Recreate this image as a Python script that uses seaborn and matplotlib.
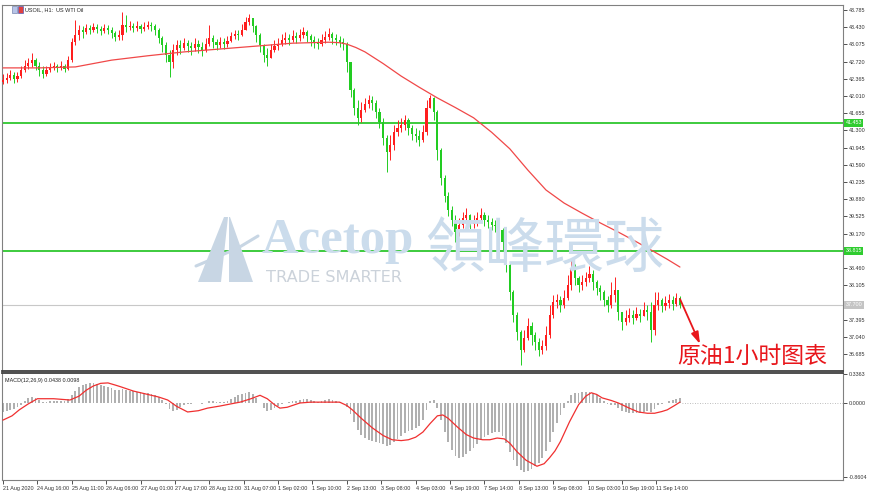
import numpy as np
import pandas as pd
import matplotlib
matplotlib.use("Agg")
import matplotlib.pyplot as plt
from matplotlib.patches import Polygon, Rectangle
import seaborn as sns

sns.set_style("white")
plt.rcParams["font.family"] = ["Liberation Sans", "DejaVu Sans"]

hours_per_bar = 2
first_open = 42.30
closes = [42.34, 42.38, 42.44, 42.36, 42.42, 42.55, 42.63, 42.69, 42.75, 42.63,
          42.55, 42.46, 42.55, 42.61, 42.63, 42.59, 42.63, 42.57, 42.75, 43.12,
          43.27, 43.37, 43.33, 43.41, 43.37, 43.43, 43.39, 43.35, 43.41, 43.37,
          43.31, 43.23, 43.27, 43.48, 43.43, 43.45, 43.41, 43.45, 43.39, 43.43,
          43.48, 43.45, 43.37, 43.21, 43.06, 42.86, 42.71, 42.96, 43.06, 43.00,
          43.10, 43.04, 43.00, 43.08, 43.02, 42.96, 43.08, 43.21, 43.12, 43.06,
          43.12, 43.08, 43.15, 43.25, 43.29, 43.27, 43.37, 43.54, 43.62, 43.45,
          43.27, 43.06, 42.86, 42.79, 42.96, 43.04, 43.08, 43.17, 43.21, 43.17,
          43.25, 43.21, 43.27, 43.33, 43.25, 43.17, 43.12, 43.08, 43.17, 43.23,
          43.29, 43.21, 43.17, 43.12, 43.08, 42.71, 42.13, 41.76, 41.56, 41.72,
          41.84, 41.93, 41.87, 41.68, 41.47, 41.14, 40.85, 41.00, 41.27, 41.35,
          41.41, 41.51, 41.35, 41.23, 41.18, 41.10, 41.27, 41.76, 41.97, 41.68,
          40.90, 40.32, 39.95, 39.66, 39.45, 39.20, 39.35, 39.49, 39.55, 39.37,
          39.41, 39.49, 39.55, 39.45, 39.41, 39.35, 39.33, 39.24, 39.00, 38.52,
          37.96, 37.49, 37.14, 36.77, 37.01, 37.26, 37.08, 36.93, 36.77, 36.85,
          37.08, 37.49, 37.76, 37.80, 37.70, 37.84, 38.11, 38.46, 38.25, 38.11,
          38.17, 38.25, 38.34, 38.17, 38.05, 37.96, 37.80, 37.70, 37.90, 38.01,
          37.55, 37.35, 37.43, 37.49, 37.43, 37.51, 37.47, 37.59, 37.55, 37.18,
          37.70, 37.80, 37.68, 37.74, 37.80, 37.72, 37.84, 37.70]
highs = [42.46, 42.48, 42.55, 42.50, 42.50, 42.63, 42.75, 42.79, 42.90, 42.79,
         42.71, 42.63, 42.63, 42.69, 42.71, 42.67, 42.73, 42.67, 42.84, 43.21,
         43.58, 43.48, 43.45, 43.50, 43.48, 43.52, 43.50, 43.45, 43.50, 43.48,
         43.43, 43.35, 43.37, 43.74, 43.68, 43.56, 43.52, 43.56, 43.50, 43.54,
         43.56, 43.54, 43.50, 43.41, 43.25, 43.12, 42.96, 43.08, 43.17, 43.17,
         43.21, 43.17, 43.12, 43.21, 43.17, 43.12, 43.21, 43.48, 43.27, 43.19,
         43.23, 43.21, 43.25, 43.33, 43.37, 43.37, 43.50, 43.64, 43.70, 43.62,
         43.48, 43.31, 43.08, 43.00, 43.08, 43.17, 43.21, 43.29, 43.33, 43.29,
         43.37, 43.33, 43.39, 43.43, 43.37, 43.29, 43.25, 43.21, 43.29, 43.35,
         43.41, 43.33, 43.29, 43.25, 43.21, 43.12, 42.65, 42.17, 41.93, 41.89,
         41.97, 42.03, 42.01, 41.93, 41.76, 41.56, 41.20, 41.20, 41.41, 41.51,
         41.56, 41.62, 41.56, 41.41, 41.35, 41.31, 41.41, 41.93, 42.03, 41.99,
         41.72, 40.94, 40.38, 40.03, 39.74, 39.55, 39.49, 39.62, 39.70, 39.57,
         39.55, 39.62, 39.70, 39.62, 39.55, 39.49, 39.45, 39.41, 39.29, 39.04,
         38.58, 38.01, 37.55, 37.18, 37.18, 37.43, 37.35, 37.14, 37.01, 36.97,
         37.26, 37.70, 37.90, 37.92, 37.88, 38.01, 38.31, 38.67, 38.54, 38.29,
         38.31, 38.38, 38.50, 38.42, 38.21, 38.11, 38.01, 37.88, 38.17, 38.27,
         38.01, 37.55, 37.59, 37.63, 37.59, 37.66, 37.61, 37.76, 37.70, 37.76,
         37.96, 37.96, 37.84, 37.88, 37.92, 37.88, 37.94, 37.88]
lows = [42.26, 42.28, 42.34, 42.28, 42.30, 42.38, 42.50, 42.57, 42.61, 42.55,
        42.42, 42.38, 42.42, 42.50, 42.55, 42.50, 42.55, 42.50, 42.55, 42.71,
        43.06, 43.17, 43.21, 43.29, 43.29, 43.33, 43.31, 43.27, 43.31, 43.29,
        43.21, 43.15, 43.17, 43.17, 43.33, 43.37, 43.33, 43.35, 43.31, 43.35,
        43.39, 43.35, 43.27, 43.10, 42.92, 42.71, 42.40, 42.59, 42.86, 42.88,
        42.96, 42.92, 42.86, 42.94, 42.90, 42.84, 42.92, 43.04, 43.00, 42.96,
        43.00, 42.98, 43.02, 43.12, 43.19, 43.17, 43.25, 43.37, 43.48, 43.33,
        43.12, 42.92, 42.71, 42.63, 42.79, 42.92, 42.96, 43.04, 43.08, 43.06,
        43.12, 43.10, 43.15, 43.21, 43.12, 43.04, 43.00, 42.98, 43.04, 43.10,
        43.17, 43.08, 43.06, 43.02, 42.96, 42.50, 41.99, 41.62, 41.41, 41.47,
        41.68, 41.76, 41.72, 41.56, 41.35, 41.00, 40.44, 40.69, 40.90, 41.18,
        41.27, 41.31, 41.20, 41.10, 41.06, 40.98, 41.06, 41.20, 41.76, 41.51,
        40.69, 40.17, 39.82, 39.53, 39.33, 39.00, 39.12, 39.29, 39.41, 39.24,
        39.29, 39.33, 39.41, 39.33, 39.29, 39.24, 39.20, 39.12, 38.83, 38.38,
        37.80, 37.35, 36.97, 36.46, 36.73, 36.97, 36.87, 36.77, 36.64, 36.68,
        36.77, 37.01, 37.43, 37.63, 37.55, 37.63, 37.80, 38.01, 38.11, 37.96,
        38.01, 38.09, 38.17, 38.01, 37.90, 37.80, 37.68, 37.55, 37.63, 37.76,
        37.39, 37.18, 37.28, 37.35, 37.30, 37.39, 37.35, 37.47, 37.39, 36.93,
        37.08, 37.59, 37.55, 37.59, 37.63, 37.59, 37.68, 37.63]

# moving average (red line), sampled along the curve
ma_hours = [0, 20, 40, 60, 80, 100, 120, 140, 160, 180,
            186, 190, 195, 200, 210, 220, 230, 240, 250, 260,
            270, 280, 290, 300, 310, 320, 330, 340, 350, 360,
            367, 374]
ma_values = [42.59, 42.59, 42.61, 42.75, 42.84, 42.92, 42.98, 43.04, 43.10, 43.12,
             43.11, 43.08, 43.01, 42.92, 42.68, 42.42, 42.19, 41.97, 41.77, 41.56,
             41.26, 40.92, 40.48, 40.07, 39.80, 39.59, 39.39, 39.20, 39.00, 38.79,
             38.64, 38.48]

# MACD histogram per bar and signal line
macd_hist = [-0.105, -0.09, -0.08, -0.07, -0.05, -0.02, 0.02, 0.06, 0.07, 0.06,
             0.035, 0.01, 0.01, 0.02, 0.02, 0.02, 0.02, 0.02, 0.05, 0.09,
             0.14, 0.19, 0.21, 0.22, 0.23, 0.23, 0.22, 0.21, 0.20, 0.19,
             0.175, 0.15, 0.15, 0.16, 0.15, 0.14, 0.14, 0.13, 0.13, 0.12,
             0.12, 0.105, 0.09, 0.07, 0.035, -0.01, -0.07, -0.09, -0.08, -0.05,
             -0.02, -0.01, -0.01, 0.0, 0.0, -0.01, 0.0, 0.02, 0.02, 0.01,
             0.01, 0.01, 0.02, 0.05, 0.07, 0.09, 0.105, 0.12, 0.13, 0.105,
             0.06, 0.0, -0.06, -0.09, -0.08, -0.06, -0.035, -0.01, 0.0, 0.01,
             0.02, 0.02, 0.035, 0.05, 0.05, 0.035, 0.02, 0.01, 0.02, 0.035,
             0.05, 0.035, 0.02, 0.01, 0.0, -0.05, -0.13, -0.22, -0.32, -0.37,
             -0.41, -0.43, -0.44, -0.46, -0.47, -0.48, -0.50, -0.49, -0.46, -0.42,
             -0.39, -0.35, -0.33, -0.32, -0.29, -0.27, -0.20, -0.08, 0.02, 0.035,
             -0.06, -0.20, -0.34, -0.46, -0.55, -0.62, -0.64, -0.63, -0.60, -0.56,
             -0.53, -0.48, -0.43, -0.40, -0.37, -0.35, -0.34, -0.34, -0.39, -0.47,
             -0.57, -0.67, -0.74, -0.78, -0.81, -0.80, -0.77, -0.74, -0.70, -0.64,
             -0.56, -0.46, -0.34, -0.23, -0.14, -0.06, 0.02, 0.09, 0.12, 0.12,
             0.13, 0.13, 0.13, 0.12, 0.09, 0.06, 0.02, -0.01, -0.02, -0.02,
             -0.06, -0.09, -0.105, -0.12, -0.12, -0.12, -0.12, -0.105, -0.09, -0.105,
             -0.07, -0.02, -0.01, 0.0, 0.02, 0.035, 0.05, 0.06]
sig_hours = [0, 5, 9, 14, 19, 28, 37, 42, 46, 50,
             54, 58, 62, 65, 72, 80, 86, 91, 96, 102,
             108, 113, 120, 126, 131, 137, 142, 146, 150, 153,
             157, 164, 170, 177, 186, 190, 193, 198, 204, 210,
             215, 220, 224, 228, 232, 236, 240, 243, 246, 251,
             256, 260, 265, 269, 273, 277, 280, 284, 289, 295,
             299, 302, 305, 308, 313, 318, 322, 325, 328, 331,
             336, 340, 346, 351, 356, 360, 364, 367, 371, 374]
sig_values = [-0.20, -0.15, -0.08, -0.01, 0.05, 0.05, 0.035, 0.08, 0.15, 0.20,
              0.23, 0.235, 0.21, 0.19, 0.14, 0.10, 0.07, 0.035, -0.04, -0.105,
              -0.09, -0.06, -0.035, -0.01, 0.01, 0.05, 0.09, 0.05, -0.02, -0.06,
              -0.05, 0.0, 0.01, 0.01, 0.01, -0.03, -0.08, -0.18, -0.29, -0.38,
              -0.43, -0.44, -0.43, -0.40, -0.34, -0.24, -0.15, -0.14, -0.18, -0.28,
              -0.37, -0.41, -0.43, -0.43, -0.41, -0.42, -0.47, -0.57, -0.67, -0.74,
              -0.71, -0.64, -0.56, -0.45, -0.22, -0.02, 0.08, 0.12, 0.10, 0.06,
              0.03, 0.0, -0.06, -0.105, -0.12, -0.12, -0.10, -0.08, -0.03, 0.01]

price_ticks = [36.685, 37.040, 37.395, 37.750, 38.105, 38.460, 38.815, 39.170,
               39.525, 39.880, 40.235, 40.590, 40.945, 41.300, 41.655, 42.010,
               42.365, 42.720, 43.075, 43.430, 43.785]
macd_ticks = [0.3363, 0.0, -0.8604]
macd_tick_labels = ["0.3363", "0.0000", "-0.8604"]
time_labels = ["21 Aug 2020", "24 Aug 16:00", "25 Aug 11:00", "26 Aug 06:00",
               "27 Aug 01:00", "27 Aug 17:00", "28 Aug 12:00", "31 Aug 07:00",
               "1 Sep 02:00", "1 Sep 10:00", "2 Sep 13:00", "3 Sep 08:00",
               "4 Sep 03:00", "4 Sep 19:00", "7 Sep 14:00", "8 Sep 13:00",
               "9 Sep 08:00", "10 Sep 03:00", "10 Sep 19:00", "11 Sep 14:00"]
label_every = 19
levels = [41.453, 38.815]
last_price = 37.700

UP = "#FF1E1E"
DOWN = "#22CC22"
MA_RED = "#F04848"
TICK_FS = 3.9

df = pd.DataFrame({"close": closes, "high": highs, "low": lows})
df["open"] = [first_open] + closes[:-1]
df["hour"] = np.arange(len(df)) * hours_per_bar
df["color"] = np.where(df["close"] >= df["open"], UP, DOWN)

W, H = 870, 493
fig = plt.figure(figsize=(W / 100, H / 100), dpi=100, facecolor="white")
ax = fig.add_axes([2 / W, 1 - 371 / H, 841 / W, 366 / H])
axm = fig.add_axes([2 / W, 1 - 480 / H, 841 / W, 107 / H])

def fx(px):
    return px / W

def fy(py):
    return 1 - py / H

# --- watermark (behind everything)
wm = "#CBDCEC"
fig.text(fx(262), fy(253), "Acetop", fontsize=36.5, family="Liberation Serif",
         weight="bold", color=wm, ha="left", va="baseline", zorder=0.5)
fig.text(fx(425), fy(250), "領峰環球", fontsize=43, family=["Noto Sans CJK TC"],
         weight="medium", color=wm, ha="left", va="center", zorder=0.5)
fig.text(fx(266), fy(282), "TRADE SMARTER", fontsize=11.6, family="DejaVu Sans",
         color="#CBD2DA", ha="left", va="baseline", zorder=0.5)
logo = [Polygon([(fx(198), fy(282)), (fx(221), fy(282)), (fx(228), fy(217)), (fx(224), fy(217))]),
        Polygon([(fx(229), fy(282)), (fx(253), fy(282)), (fx(230), fy(217)), (fx(229), fy(217))])]
for p in logo:
    p.set_facecolor("#C8D6E4")
    p.set_edgecolor("none")
    p.set_transform(fig.transFigure)
    p.set_zorder(0.5)
    fig.patches.append(p)
swoosh = plt.Line2D([fx(196), fx(215), fx(238), fx(258)], [fy(266), fy(258), fy(248), fy(236)],
                    transform=fig.transFigure, color="#C8D6E4", lw=2.2, zorder=0.5)
fig.lines.append(swoosh)

for a in (ax, axm):
    a.set_facecolor("none")
    a.set_xlim(-0.55, 464.1)
    for s in a.spines.values():
        s.set_color("#808080")
        s.set_linewidth(0.8)
    a.yaxis.tick_right()
    a.tick_params(axis="y", labelsize=TICK_FS, length=3, width=0.6, pad=1.5,
                  colors="#333333", direction="out")

# --- price panel
ax.set_ylim(36.334, 43.888)
ax.vlines(df["hour"], df["low"], df["high"], colors=df["color"], lw=0.7, zorder=3)
body = (df["close"] - df["open"]).abs().clip(lower=0.012)
ax.bar(df["hour"], body, bottom=df[["open", "close"]].min(axis=1), width=1.2,
       color=df["color"], linewidth=0, zorder=3)
sns.lineplot(x=ma_hours, y=ma_values, ax=ax, color=MA_RED, linewidth=0.9, zorder=4)
for lv in levels:
    ax.axhline(lv, color="#3DCB3D", lw=1.4, zorder=2)
    ax.text(1.003, lv, f"{lv:.3f}", transform=ax.get_yaxis_transform(), fontsize=TICK_FS,
            color="white", va="center", ha="left", clip_on=False, zorder=6,
            bbox=dict(boxstyle="square,pad=0.25", fc="#2FCC2F", ec="none"))
ax.axhline(last_price, color="#C8C8C8", lw=0.8, zorder=2)
ax.text(1.003, last_price, f"{last_price:.3f}", transform=ax.get_yaxis_transform(),
        fontsize=TICK_FS, color="white", va="center", ha="left", clip_on=False, zorder=6,
        bbox=dict(boxstyle="square,pad=0.25", fc="#C4C4C4", ec="none"))
ax.set_yticks(price_ticks)
# tick labels hidden where the level / price boxes sit on the axis
hidden = [38.815, 37.750]
ax.set_yticklabels(["" if round(v, 3) in hidden else f"{v:.3f}" for v in price_ticks])
ax.set_xticks([])
ax.spines["bottom"].set_color("#404040")
ax.spines["bottom"].set_linewidth(1.3)
ax.text(23 / 841, 0.988, "USOIL, H1:  US WTI Oil", transform=ax.transAxes,
        fontsize=4.0, va="center", ha="left", color="#222222")
ax.add_patch(Rectangle((10 / 841, 0.979), 5 / 841, 0.018, transform=ax.transAxes,
                       fc="#B8C4E8", ec="#6070A0", lw=0.4))
ax.add_patch(Rectangle((16 / 841, 0.979), 5 / 841, 0.018, transform=ax.transAxes,
                       fc="#E04040", ec="#3050C0", lw=0.4))
ax.set_xlabel("")
ax.set_ylabel("")

# --- MACD panel
axm.set_ylim(-0.901, 0.351)
axm.bar(df["hour"], macd_hist, width=1.0, color="#B0B0B0", linewidth=0, zorder=2)
sns.lineplot(x=sig_hours, y=sig_values, ax=axm, color="#F03030", linewidth=0.9, zorder=3)
axm.hlines(0, df["hour"].iloc[-1] + 1, 464.1, colors="#A8A8A8", linestyles=(0, (1, 2)), lw=0.6)
axm.set_yticks(macd_ticks)
axm.set_yticklabels(macd_tick_labels)
axm.set_xticks(np.arange(len(time_labels)) * label_every)
axm.set_xticklabels(time_labels, ha="left")
axm.tick_params(axis="x", labelsize=TICK_FS, length=3, width=0.6, pad=1.5,
                colors="#333333", direction="out", bottom=True)
axm.spines["top"].set_color("#404040")
axm.spines["top"].set_linewidth(1.3)
axm.text(3 / 841, 0.955, "MACD(12,26,9) 0.0438 0.0098", transform=axm.transAxes,
         fontsize=3.9, va="top", ha="left", color="#222222")
axm.set_xlabel("")
axm.set_ylabel("")

# --- red annotation
red = "#E8161B"
ax.annotate("", xy=(fx(700), fy(344)), xycoords="figure fraction",
            xytext=(fx(680), fy(299)), textcoords="figure fraction",
            arrowprops=dict(arrowstyle="-|>,head_width=0.22,head_length=0.7",
                            color=red, lw=1.3, shrinkA=0, shrinkB=0), zorder=7)
fig.text(fx(677), fy(356), "原油1小时图表", fontsize=16.5,
         family=["Noto Sans CJK SC", "DejaVu Sans"], color=red,
         ha="left", va="center", zorder=7)

fig.savefig("out.png", dpi=100, facecolor="white")
